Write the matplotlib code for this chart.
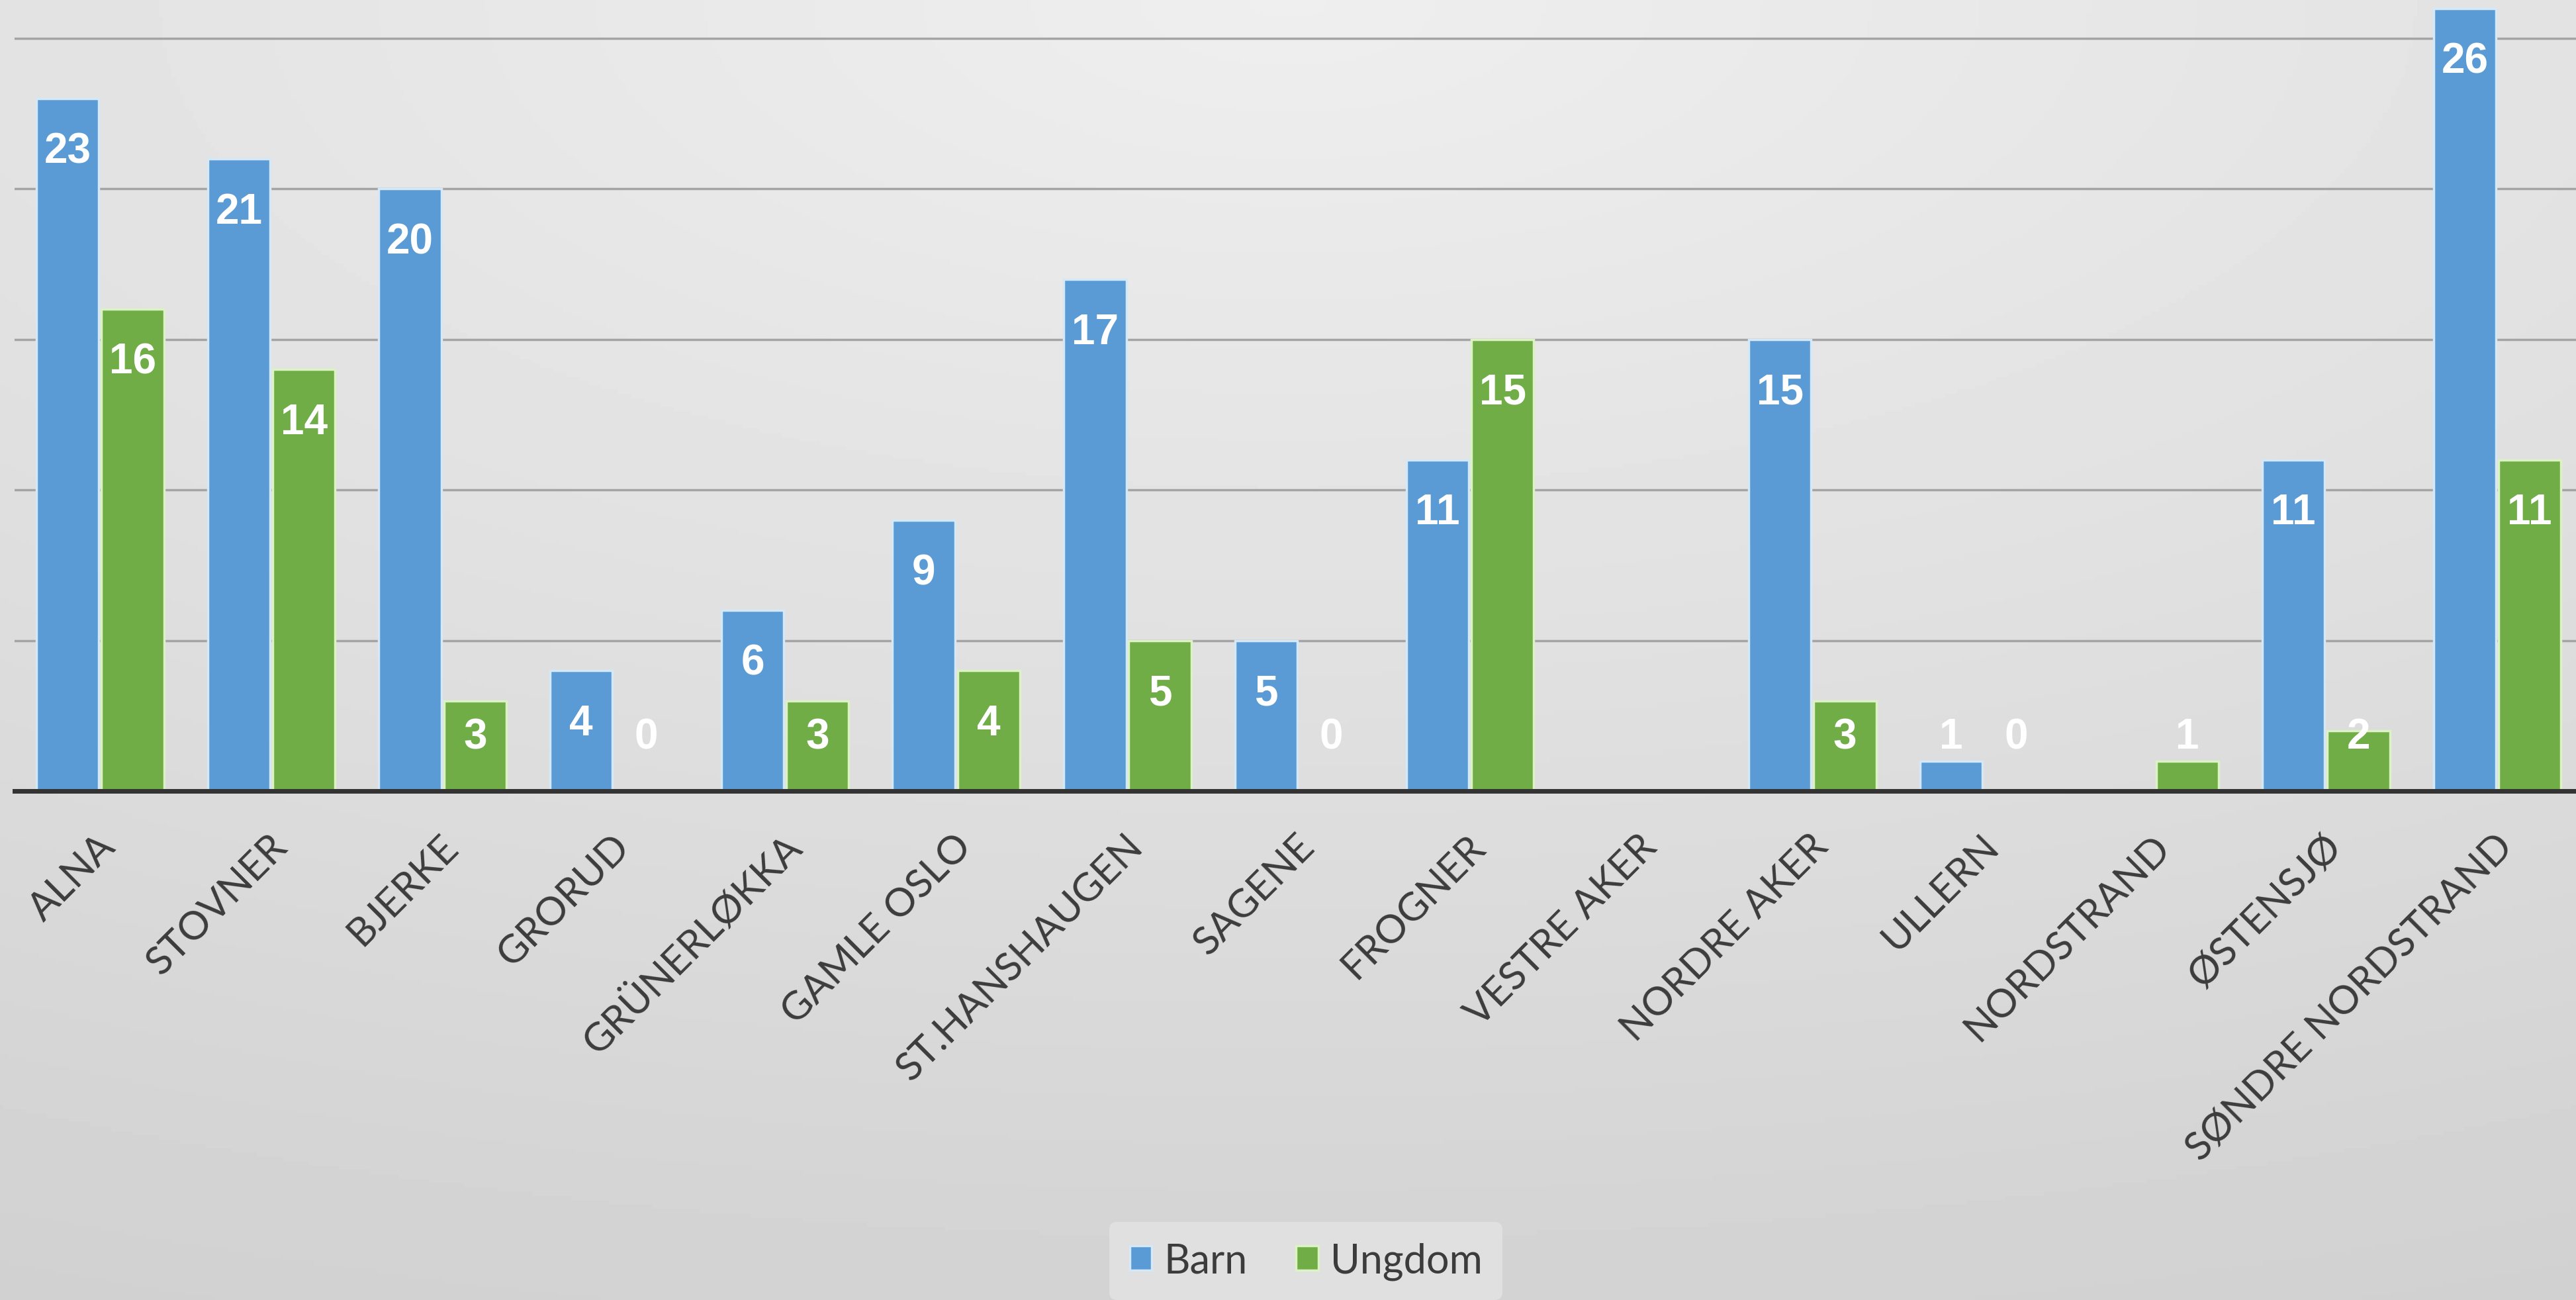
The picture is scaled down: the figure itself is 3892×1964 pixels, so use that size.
import numpy as np
import matplotlib.pyplot as plt
from matplotlib.transforms import ScaledTranslation

districts = ["ALNA", "STOVNER", "BJERKE", "GRORUD", "GRÜNERLØKKA", "GAMLE OSLO",
             "ST.HANSHAUGEN", "SAGENE", "FROGNER", "VESTRE AKER", "NORDRE AKER",
             "ULLERN", "NORDSTRAND", "ØSTENSJØ", "SØNDRE NORDSTRAND"]
barn = [23, 21, 20, 4, 6, 9, 17, 5, 11, None, 15, 1, None, 11, 26]
ungdom = [16, 14, 3, 0, 3, 4, 5, 0, 15, None, 3, 0, 1, 2, 11]

fig = plt.figure(figsize=(38.92, 19.65), dpi=100)

# grey gradient background
bg = fig.add_axes([0, 0, 1, 1], zorder=-10)
yy, xx = np.mgrid[0:1:300j, 0:1:600j]
d = np.sqrt(((xx - 0.5) / 1.3) ** 2 + (yy * 0.9) ** 2)
shade = 0.935 - 0.12 * d
bg.imshow(shade, cmap='gray', vmin=0, vmax=1, aspect='auto', extent=[0, 1, 0, 1])
bg.axis('off')

ax = fig.add_axes([22 / 3892, 769 / 1965, 1 - 22 / 3892, 1 - 769 / 1965])
ax.patch.set_alpha(0)

x = np.arange(len(districts))
w = 0.365
series = [(barn, -0.19, '#5b9bd5', '#d4e8f8', 'Barn'),
          (ungdom, 0.19, '#70ad47', '#dcf2c4', 'Ungdom')]
for vals, off, col, edge, name in series:
    h = [v if v is not None else 0 for v in vals]
    ax.bar(x + off, h, w, color=col, edgecolor=edge, linewidth=2.5, label=name, zorder=3)
    for xi, v in zip(x, vals):
        if v is None:
            continue
        ax.text(xi + off, max(v - 1.75, 1.8), str(v), ha='center', va='center',
                color='white', fontsize=46, fontweight='bold', zorder=4,
                family=['Liberation Sans Narrow', 'Liberation Sans'])

ax.set_xlim(-0.5, 14.46)
ax.set_ylim(0, 26.3)
ax.set_yticks([5, 10, 15, 20, 25])
ax.yaxis.grid(True, color='#a4a4a4', linewidth=2.5, zorder=0)
ax.set_axisbelow(True)
ax.tick_params(axis='y', left=False, labelleft=False)
for s in ['left', 'right', 'top']:
    ax.spines[s].set_visible(False)
ax.spines['bottom'].set_color('#333333')
ax.spines['bottom'].set_linewidth(5)
ax.spines['bottom'].set_zorder(5)

ax.set_xticks(x)
ax.set_xticklabels(districts, rotation=45, ha='right', va='top',
                   rotation_mode='anchor', fontsize=43, color='#3c3c3c', family='Lato')
ax.tick_params(axis='x', length=0, pad=40)
for lab in ax.get_xticklabels():
    lab.set_transform(lab.get_transform() + ScaledTranslation(-0.05, 0, fig.dpi_scale_trans))

fig.legend(loc='center', bbox_to_anchor=(0.507, 0.03), ncol=2, frameon=True,
           facecolor='#e4e4e4', edgecolor='none', handlelength=0.55,
           handleheight=0.55, columnspacing=1.2, handletextpad=0.3, borderpad=0.5,
           prop={'family': 'Lato', 'size': 44}, labelcolor='#3c3c3c')

fig.savefig('out.png', dpi=100)
